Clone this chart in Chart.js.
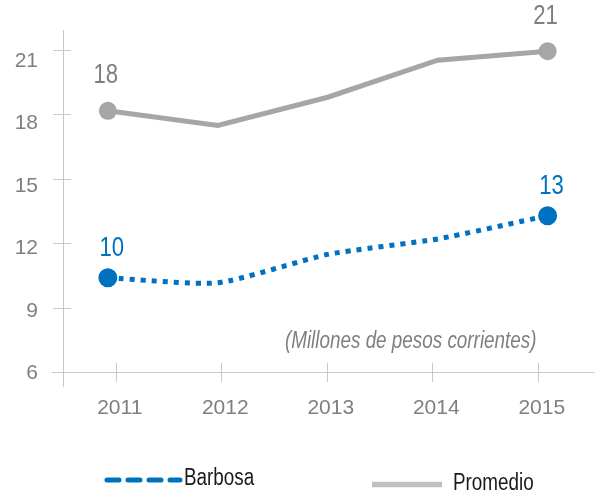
<!DOCTYPE html>
<html><head><meta charset="utf-8">
<script src="https://cdn.jsdelivr.net/npm/chart.js@4.4.1/dist/chart.umd.min.js"></script>
<style>html,body{margin:0;padding:0;background:#fff;} canvas{display:block;}</style>
</head><body>
<canvas id="c" width="600" height="493"></canvas>
<script>
// ---- data ----
const years = [2011, 2012, 2013, 2014, 2015];
const barbosa = [10.38, 10.15, 11.47, 12.19, 13.27];
const promedio = [18.15, 17.47, 18.78, 20.5, 20.92];
const yTicks = [6, 9, 12, 15, 18, 21];
const seriesNames = ['Barbosa', 'Promedio'];
const unitNote = '(Millones de pesos corrientes)';

// ---- styles ----
const FONT = "'Liberation Sans', Arial, sans-serif";
const NARROW = 0.82; // horizontal condensing for custom-drawn text (mimics a narrow face)
const BLUE = '#0070c0';
const GRAY_LINE = '#a6a6a6';
const LEGEND_GRAY = '#c0c0c0';
const AXIS = '#c9c9c9';
const TEXT_GRAY = '#7f7f7f';

const toXY = (arr) => arr.map((v, i) => ({ x: years[i], y: v }));

function narrowText(ctx, text, x, y, align) {
  ctx.save();
  ctx.translate(x, y);
  ctx.scale(NARROW, 1);
  ctx.textAlign = align;
  ctx.fillText(text, 0, 0);
  ctx.restore();
}

const axesPlugin = {
  id: 'axesPlugin',
  beforeDatasetsDraw(chart) {
    const { ctx, chartArea: a, scales } = chart;
    const y = scales.y, x = scales.x;
    ctx.save();
    ctx.strokeStyle = AXIS;
    ctx.lineWidth = 1;
    ctx.beginPath();
    ctx.moveTo(a.left + 0.5, a.top + 2);
    ctx.lineTo(a.left + 0.5, a.bottom + 15);
    ctx.moveTo(a.left - 11, a.bottom + 0.5);
    ctx.lineTo(a.right + 4, a.bottom + 0.5);
    yTicks.forEach(v => {
      const py = Math.round(y.getPixelForValue(v)) + 0.5;
      ctx.moveTo(a.left - 10, py);
      ctx.lineTo(a.left + 8, py);
    });
    years.forEach((yr, i) => {
      const px = Math.round(x.getPixelForTick(i)) + 0.5;
      ctx.moveTo(px, a.bottom - 9);
      ctx.lineTo(px, a.bottom + 10);
    });
    ctx.stroke();
    ctx.fillStyle = TEXT_GRAY;
    ctx.font = "italic 23px " + FONT;
    ctx.textBaseline = 'alphabetic';
    narrowText(ctx, unitNote, a.right - 54, a.bottom - 24, 'right');
    ctx.restore();
  }
};

const labelPlugin = {
  id: 'labelPlugin',
  afterDatasetsDraw(chart) {
    const { ctx } = chart;
    ctx.save();
    ctx.font = "27px " + FONT;
    ctx.textBaseline = 'middle';
    chart.data.datasets.forEach((ds, di) => {
      const meta = chart.getDatasetMeta(di);
      const n = meta.data.length;
      [0, n - 1].forEach(i => {
        const p = meta.data[i];
        ctx.fillStyle = ds.labelColor;
        narrowText(ctx, String(Math.round(ds.data[i].y)), p.x + ds.labelDx, p.y - ds.labelDy, 'center');
      });
    });
    ctx.restore();
  }
};

const legendPlugin = {
  id: 'legendPlugin',
  afterDraw(chart) {
    const { ctx } = chart;
    ctx.save();
    ctx.strokeStyle = BLUE;
    ctx.lineWidth = 5;
    ctx.lineCap = 'round';
    ctx.setLineDash([12, 9]);
    ctx.beginPath();
    ctx.moveTo(107, 480);
    ctx.lineTo(180, 480);
    ctx.stroke();
    ctx.setLineDash([]);
    ctx.fillStyle = '#1a1a1a';
    ctx.font = "23px " + FONT;
    ctx.textBaseline = 'alphabetic';
    narrowText(ctx, seriesNames[0], 184, 485, 'left');
    ctx.strokeStyle = LEGEND_GRAY;
    ctx.lineWidth = 5.5;
    ctx.lineCap = 'butt';
    ctx.beginPath();
    ctx.moveTo(372, 484.5);
    ctx.lineTo(442, 484.5);
    ctx.stroke();
    narrowText(ctx, seriesNames[1], 453, 490, 'left');
    ctx.restore();
  }
};

new Chart(document.getElementById('c'), {
  type: 'line',
  data: {
    labels: years.map(String),
    datasets: [
      {
        label: seriesNames[1],
        data: toXY(promedio),
        xAxisID: 'xd', yAxisID: 'y',
        borderColor: GRAY_LINE, backgroundColor: GRAY_LINE,
        borderWidth: 5, tension: 0,
        pointRadius: [9, 0, 0, 0, 9], pointBorderWidth: 0,
        pointBackgroundColor: GRAY_LINE,
        labelColor: TEXT_GRAY, labelDx: -2, labelDy: 35
      },
      {
        label: seriesNames[0],
        data: toXY(barbosa),
        xAxisID: 'xd', yAxisID: 'y',
        borderColor: BLUE, backgroundColor: BLUE,
        borderWidth: 5, borderDash: [5, 6], borderCapStyle: 'butt', tension: 0.2,
        pointRadius: [9.5, 0, 0, 0, 9.5], pointBorderWidth: 0,
        pointBackgroundColor: BLUE,
        labelColor: BLUE, labelDx: 4, labelDy: 29
      }
    ]
  },
  options: {
    responsive: false,
    animation: false,
    events: [],
    layout: { padding: { left: 0, top: 28, right: 8, bottom: 61 } },
    plugins: { legend: { display: false }, tooltip: { enabled: false } },
    scales: {
      x: {
        type: 'category', position: 'bottom', offset: true,
        grid: { display: false, drawTicks: false }, border: { display: false },
        ticks: { color: TEXT_GRAY, font: { family: FONT, size: 21 }, padding: 24, labelOffset: 4, maxRotation: 0 },
        afterFit: (s) => { s.height = 60; s.paddingLeft = 0; s.paddingRight = 0; }
      },
      xd: { type: 'linear', display: false, position: 'bottom', min: 2010.592, max: 2015.39 },
      y: { type: 'linear', display: false, position: 'left', min: 6, max: 22 },
      yLab: {
        type: 'linear', position: 'left', min: 6.072, max: 22.586,
        grid: { display: false, drawTicks: false }, border: { display: false },
        afterBuildTicks: (s) => { s.ticks = yTicks.map(v => ({ value: v })); },
        ticks: { color: TEXT_GRAY, font: { family: FONT, size: 21 }, padding: 25, autoSkip: false },
        afterFit: (s) => { s.width = 63; s.paddingTop = 0; s.paddingBottom = 0; }
      }
    }
  },
  plugins: [axesPlugin, labelPlugin, legendPlugin]
});
</script>
</body></html>
